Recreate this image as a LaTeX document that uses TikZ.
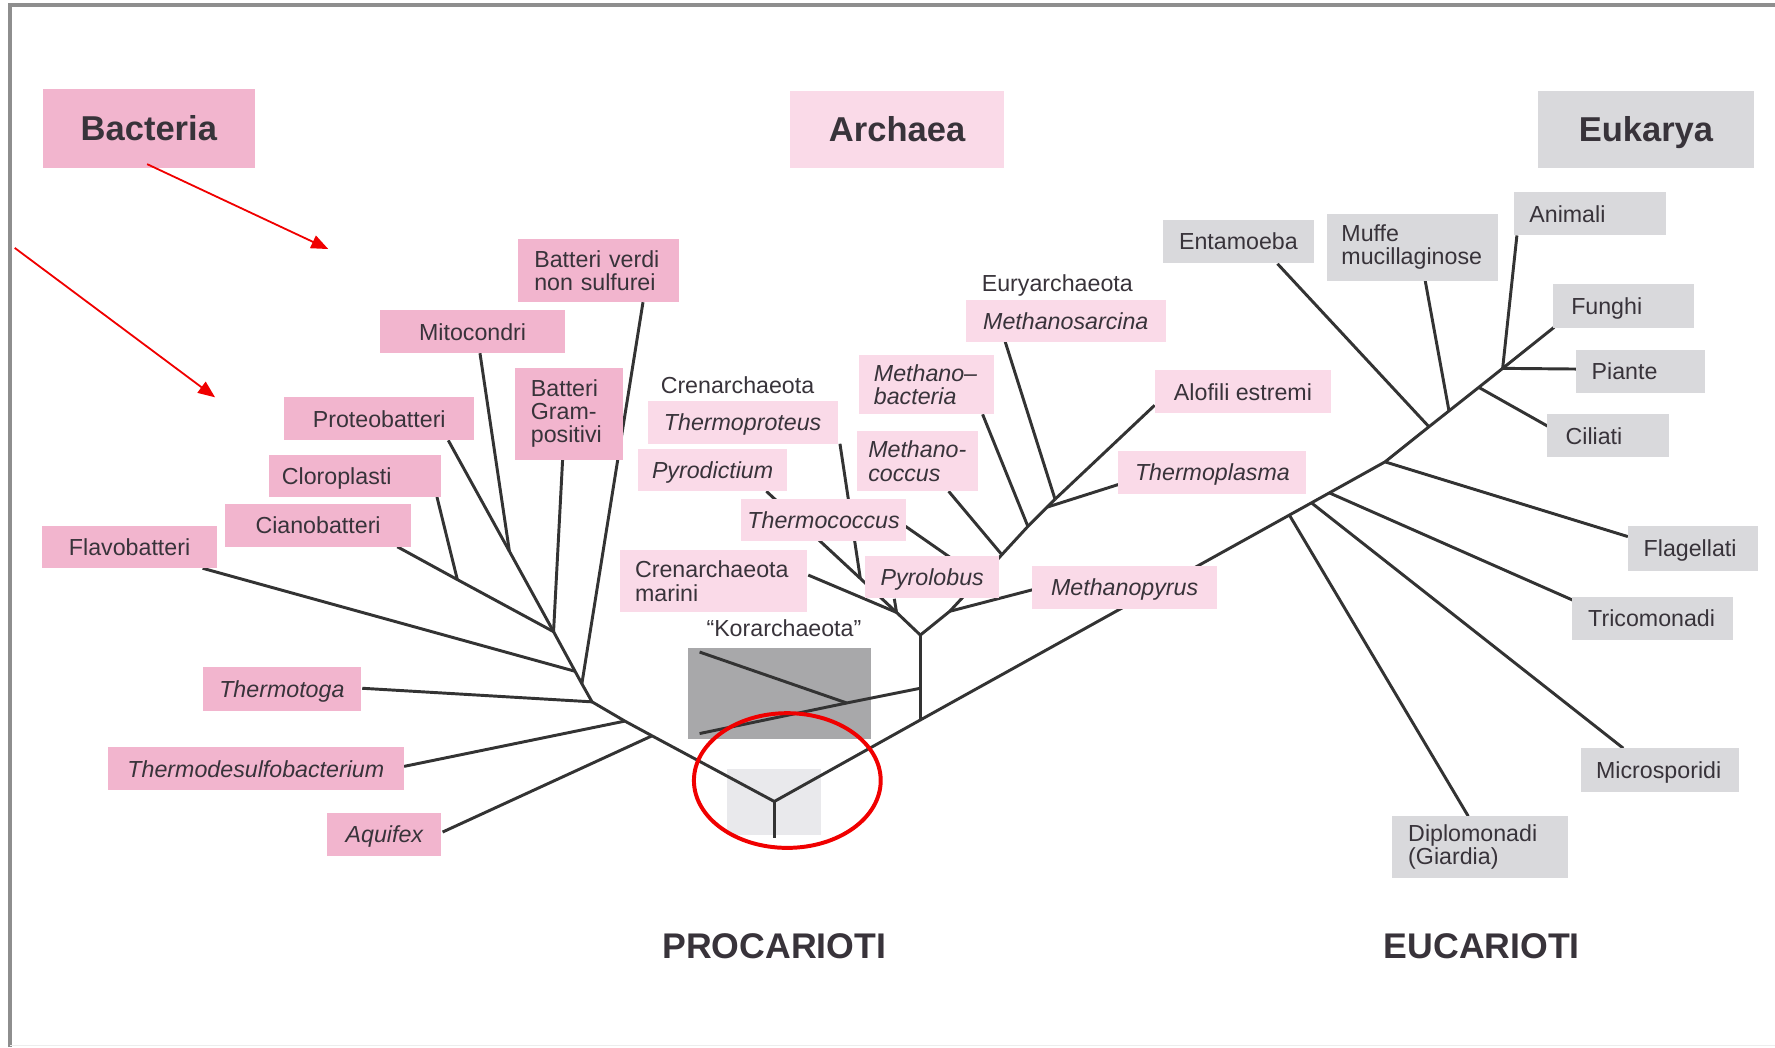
\documentclass[tikz,border=0pt]{standalone}
\usepackage{fontspec}
\setmainfont{Liberation Sans}
\usetikzlibrary{arrows.meta}
\pgfdeclarelayer{back}
\pgfdeclarelayer{bg}
\pgfsetlayers{back,bg,main}
\definecolor{bpink}{HTML}{F2B5CE}
\definecolor{apink}{HTML}{FADAE8}
\definecolor{egray}{HTML}{D9D9DC}
\definecolor{kgray}{HTML}{A8A8AA}
\definecolor{rgray}{HTML}{E9E9EC}
\definecolor{txt}{HTML}{38333A}
\definecolor{branch}{HTML}{333333}
\definecolor{framec}{HTML}{8E8E8E}
\definecolor{redc}{HTML}{F00000}
\begin{document}
\begin{tikzpicture}[x=1pt,y=-1pt,
  lbl/.style={rectangle, inner ysep=0pt, text=txt, font=\fontsize{20.5}{20.5}\selectfont},
  one/.style={lbl, text height=17pt, text depth=2.2pt},
  it/.style={font=\fontsize{20.5}{20.5}\selectfont\itshape},
  bacb/.style={fill=bpink}, arcb/.style={fill=apink}, eukb/.style={fill=egray},
  ctr/.style 2 args={minimum width=#1pt, minimum height=#2pt, inner xsep=0pt},
  lft/.style n args={3}{text width=#1pt, minimum height=#2pt, inner xsep=#3pt, align=left},
  head/.style={rectangle, inner sep=0pt, text=txt, font=\fontsize{30.5}{30.5}\selectfont\bfseries, text height=24pt, text depth=2.1pt, minimum height=68pt},
  foot/.style={inner sep=0pt, text=txt, font=\fontsize{31.5}{31.5}\selectfont\bfseries},
  br/.style={draw=branch, line width=2.6pt, line join=round},
  redarrow/.style={draw=redc, line width=1.6pt, -{Triangle[length=15pt,width=12pt]}}
]
\useasboundingbox (0,0) rectangle (1568,925);
% frame
\draw[framec, line width=3pt] (9,925) -- (9,4.5) -- (1568,4.5);
\draw[black!7, line width=1.5pt] (9,923.5) -- (1568,923.5);

% headers
\node[head, fill=bpink, minimum width=187pt, minimum height=69pt] (hbac) at (131.5,113.5) {Bacteria};
\node[head, fill=apink, minimum width=189pt] (harc) at (792.5,114) {Archaea};
\node[head, fill=egray, minimum width=190pt] (heuk) at (1454,114) {Eukarya};

% Bacteria leaves
\node[lbl, bacb, lft={114}{56}{14}] (bv) at (529,239) {Batteri verdi\\non sulfurei};
\node[one, bacb, ctr={163}{38}] (mito) at (417.5,293) {Mitocondri};
\node[lbl, bacb, lft={67}{81}{14}] (gram) at (502.5,365.5) {Batteri\\Gram-\\positivi};
\node[one, bacb, ctr={168}{38}] (proteo) at (335,370) {Proteobatteri};
\node[one, bacb, lft={130}{37}{11}] (cloro) at (314,420.5) {Cloroplasti};
\node[one, bacb, ctr={164}{38}] (ciano) at (281,464) {Cianobatteri};
\node[one, bacb, ctr={155}{37}] (flavo) at (114.5,483.5) {Flavobatteri};
\node[one, it, bacb, ctr={140}{39}] (tmt) at (249,608.5) {Thermotoga};
\node[one, it, bacb, ctr={262}{38}] (tmd) at (226,679) {Thermodesulfobacterium};
\node[one, it, bacb, ctr={101}{38}] (aq) at (339.5,737) {Aquifex};

% Archaea leaves
\node[one, it, arcb, ctr={168}{38}] (tpr) at (656,373) {Thermoproteus};
\node[one, it, arcb, ctr={131}{37}] (pyd) at (629.5,415.5) {Pyrodictium};
\node[one, it, arcb, ctr={145}{37}] (tcc) at (727.5,459.5) {Thermococcus};
\node[lbl, arcb, lft={139}{55}{13}] (cm) at (630.5,513.5) {Crenarchaeota\\marini};
\node[one, it, arcb, ctr={118}{37}] (pyl) at (823.5,510) {Pyrolobus};
\node[one, it, arcb, ctr={163}{38}] (mpy) at (993.5,519) {Methanopyrus};
\node[one, it, arcb, ctr={177}{37}] (msa) at (941.5,283.5) {Methanosarcina};
\node[lbl, it, arcb, lft={93}{52}{13}] (mba) at (818.5,340) {Methano–\\bacteria};
\node[lbl, it, arcb, lft={87}{53}{10}] (mcc) at (810.5,407.5) {Methano-\\coccus};
\node[one, arcb, ctr={156}{38}] (alo) at (1098,346) {Alofili estremi};
\node[one, it, arcb, ctr={166}{38}] (tpl) at (1071,417) {Thermoplasma};
\node[one, inner xsep=0pt] (cren) at (651.5,340) {Crenarchaeota};
\node[one, inner xsep=0pt] (eury) at (934,250) {Euryarchaeota};
\node[one, inner xsep=0pt] (korl) at (692.5,555) {“Korarchaeota”};

% Eukarya leaves
\node[one, eukb, ctr={134}{38}] (ent) at (1094,213) {Entamoeba};
\node[lbl, eukb, lft={125}{59}{13}] (muf) at (1247.5,218.5) {Muffe\\mucillaginose};
\node[one, eukb, lft={107}{38}{14}] (ani) at (1404.5,189) {Animali};
\node[one, eukb, lft={92}{39}{16}] (fun) at (1434,270.5) {Funghi};
\node[one, eukb, lft={86}{38}{14}] (pia) at (1449,328) {Piante};
\node[one, eukb, lft={75}{38}{16}] (cil) at (1420.5,385) {Ciliati};
\node[one, eukb, lft={87}{39}{14}] (fla) at (1495.5,484.5) {Flagellati};
\node[one, eukb, lft={114}{38}{14}] (tri) at (1460,546) {Tricomonadi};
\node[one, eukb, lft={113}{39}{13}] (mic) at (1466.5,680.5) {Microsporidi};
\node[lbl, eukb, lft={127}{55}{14}] (dip) at (1307.5,748.5) {Diplomonadi\\(Giardia)};

% bottom titles
\node[foot] (pro) at (684,836) {PROCARIOTI};
\node[foot] (euc) at (1309,836) {EUCARIOTI};

% background boxes
\begin{pgfonlayer}{back}
\node[fill=kgray, minimum width=161pt, minimum height=81pt, inner sep=0pt] (korbox) at (688.5,612.5) {};
\node[fill=rgray, minimum width=83pt, minimum height=59pt, inner sep=0pt] (rootbox) at (683.5,708.5) {};
\end{pgfonlayer}

% junctions
\coordinate (R) at (684,708); \coordinate (Rb) at (684,740);
\coordinate (Ja) at (576,650); \coordinate (Jd) at (552,637); \coordinate (Jt) at (523,620);
\coordinate (Jv) at (514,604); \coordinate (Jf) at (508,593); \coordinate (Jg) at (489,558);
\coordinate (Jm) at (450,487); \coordinate (Jc) at (404,512);
\coordinate (S) at (813,636); \coordinate (K) at (813,608); \coordinate (T) at (813,561);
\coordinate (Kb) at (748,621); \coordinate (Ko1) at (618,648); \coordinate (Ko2) at (618,576);
\coordinate (J1) at (760,511); \coordinate (J2) at (792,541);
\coordinate (J4) at (839,540); \coordinate (Jtc) at (866,511);
\coordinate (E0) at (885,490); \coordinate (E1) at (908,465); \coordinate (E2) at (925,448); \coordinate (E3) at (932,441);
\coordinate (M1) at (1139,455); \coordinate (M2) at (1158.5,444.2); \coordinate (M3) at (1174.3,435.4);
\coordinate (M4) at (1223.5,408); \coordinate (M5) at (1262.3,377); \coordinate (M6) at (1280,363);
\coordinate (M7) at (1306.3,342.2); \coordinate (M8) at (1327.4,325.4);
% leaf ends
\coordinate (e-bv) at (568,267); \coordinate (e-mito) at (424,312); \coordinate (e-gram) at (497,406);
\coordinate (e-proteo) at (396,389); \coordinate (e-cloro) at (386,439); \coordinate (e-ciano) at (351,483);
\coordinate (e-flavo) at (179,502); \coordinate (e-tmt) at (320,608); \coordinate (e-tmd) at (357,677);
\coordinate (e-aq) at (391,735);
\coordinate (e-tpr) at (742,392); \coordinate (e-pyd) at (677,434); \coordinate (e-cm) at (714,508);
\coordinate (e-pyl) at (790,529); \coordinate (e-tcc) at (800,465); \coordinate (e-mpy) at (912,521);
\coordinate (e-mcc) at (838,434); \coordinate (e-mba) at (868,366); \coordinate (e-msa) at (888,302);
\coordinate (e-alo) at (1020,358); \coordinate (e-tpl) at (988,428);
\coordinate (e-dip) at (1297,721); \coordinate (e-mic) at (1434,661); \coordinate (e-tri) at (1389,530);
\coordinate (e-fla) at (1438,474); \coordinate (e-ent) at (1128.5,233); \coordinate (e-muf) at (1259,248);
\coordinate (e-ani) at (1340,208); \coordinate (e-fun) at (1373,289); \coordinate (e-pia) at (1392,326);
\coordinate (e-cil) at (1369,377.5);

\begin{pgfonlayer}{bg}
% root
\draw[br] (R) -- (Rb);
% bacteria
\draw[br] (R) -- (Ja) -- (Jd) -- (Jt) -- (Jv) -- (Jf) -- (Jg);
\draw[br] (Jg) -- (e-gram);
\draw[br] (Jg) -- (Jm) -- (e-proteo);
\draw[br] (Jm) -- (e-mito);
\draw[br] (Jg) -- (Jc) -- (e-ciano);
\draw[br] (Jc) -- (e-cloro);
\draw[br] (Jf) -- (e-flavo);
\draw[br] (Jv) -- (e-bv);
\draw[br] (Jt) -- (e-tmt);
\draw[br] (Jd) -- (e-tmd);
\draw[br] (Ja) -- (e-aq);
% archaea
\draw[br] (R) -- (S) -- (M1) -- (M2) -- (M3) -- (M4) -- (M5) -- (M6) -- (M7) -- (M8);
\draw[br] (S) -- (K) -- (T);
\draw[br] (K) -- (Kb) -- (Ko1);
\draw[br] (Kb) -- (Ko2);
\draw[br] (T) -- (J2) -- (J1);
\draw[br] (J1) -- (e-tpr);
\draw[br] (J1) -- (e-pyd);
\draw[br] (J2) -- (e-cm);
\draw[br] (J2) -- (e-pyl);
\draw[br] (T) -- (J4) -- (Jtc) -- (E0) -- (E1) -- (E2) -- (E3);
\draw[br] (J4) -- (e-mpy);
\draw[br] (Jtc) -- (e-tcc);
\draw[br] (E0) -- (e-mcc);
\draw[br] (E1) -- (e-mba);
\draw[br] (E2) -- (e-tpl);
\draw[br] (E3) -- (e-msa);
\draw[br] (E3) -- (e-alo);
% eukarya
\draw[br] (M1) -- (e-dip);
\draw[br] (M2) -- (e-mic);
\draw[br] (M3) -- (e-tri);
\draw[br] (M4) -- (e-fla);
\draw[br] (M5) -- (e-ent);
\draw[br] (M6) -- (e-muf);
\draw[br] (M7) -- (e-cil);
\draw[br] (M8) -- (e-ani);
\draw[br] (M8) -- (e-fun);
\draw[br] (M8) -- (e-pia);
\end{pgfonlayer}

% red annotations
\coordinate (a1s) at (130,145); \coordinate (a1e) at (290,220);
\coordinate (a2s) at (13,219); \coordinate (a2e) at (190,351);
\draw[redarrow] (a1s) -- (a1e);
\draw[redarrow] (a2s) -- (a2e);
\coordinate (ell) at (695.5,689.5);
\draw[redc, line width=3.5pt] (ell) ellipse [x radius=82.5pt, y radius=59.5pt];
\end{tikzpicture}
\end{document}
